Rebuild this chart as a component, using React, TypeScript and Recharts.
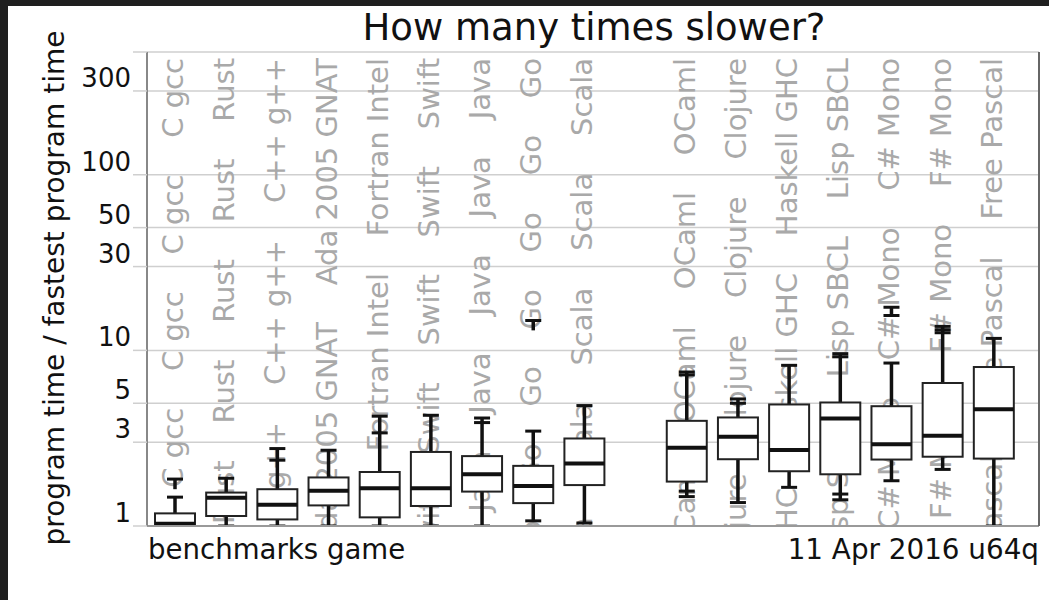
import React from 'react';
import { ComposedChart, Bar, XAxis, YAxis, CartesianGrid } from 'recharts';

// ---- data ----
const languages = [
  'C gcc', 'Rust', 'C++ g++', 'Ada 2005 GNAT', 'Fortran Intel', 'Swift', 'Java', 'Go', 'Scala', '',
  'OCaml', 'Clojure', 'Haskell GHC', 'Lisp SBCL', 'C# Mono', 'F# Mono', 'Free Pascal',
];
const whiskerLow = [1.0, 1.0, 1.0, 1.0, 1.0, 1.0, 1.0, 1.07, 1.04, null, 1.47, 1.36, 1.66, 1.41, 1.81, 2.1, 1.0];
const quartile1 = [1.01, 1.14, 1.09, 1.31, 1.12, 1.3, 1.57, 1.35, 1.71, null, 1.79, 2.4, 2.05, 1.97, 2.39, 2.48, 2.42];
const medians = [1.03, 1.45, 1.32, 1.59, 1.64, 1.64, 1.97, 1.69, 2.27, null, 2.79, 3.22, 2.71, 4.09, 2.92, 3.26, 4.62];
const quartile3 = [1.18, 1.55, 1.62, 1.89, 2.03, 2.64, 2.5, 2.2, 3.15, null, 3.97, 4.15, 4.92, 5.05, 4.81, 6.52, 8.04];
const whiskerHigh = [1.46, 1.87, 2.76, 2.7, 4.22, 4.27, 4.12, 3.47, 4.85, null, 7.53, 5.29, 8.22, 9.58, 8.47, 13.7, 11.7];
const extraCaps: number[][] = [
  [], [], [2.37], [], [3.39], [], [3.88], [], [], [],
  [7.25, 1.58], [5.0], [], [9.2, 1.52], [15.8], [12.6, 13.1], [],
];
const outlierLow = [1.62, null, null, null, null, null, null, 13.0, null, null, null, null, null, null, 15.8, null, null];
const outlierHigh = [1.85, null, null, null, null, null, null, 14.8, null, null, null, null, null, null, 17.6, null, null];

const yTicks = [1, 3, 5, 10, 30, 50, 100, 300, 500];
const yTickLabels = ['1', '3', '5', '10', '30', '50', '100', '300', ''];
const yDomain: [number, number] = [1, 500];

const data = languages.map((name, i) => {
  const lo = whiskerLow[i];
  const hi = whiskerHigh[i];
  if (lo == null || hi == null) return { name, idx: i, range: null };
  const all = [lo, hi, ...(extraCaps[i] || [])];
  if (outlierHigh[i] != null) all.push(outlierHigh[i] as number);
  if (outlierLow[i] != null) all.push(outlierLow[i] as number);
  return {
    name,
    idx: i,
    lo,
    q1: quartile1[i],
    med: medians[i],
    q3: quartile3[i],
    hi,
    caps: extraCaps[i],
    outLo: outlierLow[i],
    outHi: outlierHigh[i],
    range: [Math.min(...all), Math.max(...all)],
  };
});

// approximate DejaVu Sans advance widths (em) used to stop the repeated
// background label just past the bottom of the plot
const ADV: Record<string, number> = {
  ' ': 0.318, '\u00a0': 0.318, '#': 0.838, '+': 0.838, '0': 0.636, '2': 0.636, '5': 0.636,
  A: 0.684, B: 0.686, C: 0.698, F: 0.575, G: 0.775, H: 0.752, J: 0.295, L: 0.557, M: 0.863,
  N: 0.748, O: 0.787, P: 0.603, R: 0.695, S: 0.635, T: 0.611,
  a: 0.613, c: 0.55, d: 0.635, e: 0.615, f: 0.352, g: 0.635, h: 0.634, i: 0.278, j: 0.278,
  k: 0.579, l: 0.278, m: 0.974, n: 0.634, o: 0.612, p: 0.635, r: 0.411, s: 0.521, t: 0.392,
  u: 0.634, v: 0.592, w: 0.818, y: 0.592,
};

const BG_FONT = 29;
const SEP = '\u00a0\u00a0\u00a0\u00a0';

// the label is anchored at its end (top of the plot), so trim from the start
function repeatedLabel(name: string, avail: number) {
  const chars = Array.from(Array(20).fill(name).join(SEP));
  const kept: string[] = [];
  let len = 0;
  for (let k = chars.length - 1; k >= 0; k--) {
    if (len > avail) break;
    kept.push(chars[k]);
    len += (ADV[chars[k]] ?? 0.6) * BG_FONT;
  }
  return kept.reverse().join('');
}

function BoxShape(props: any) {
  const { x, y, width, height, payload } = props;
  if (!payload || !payload.range) return null;
  const [vMin, vMax] = payload.range;
  const top = Math.min(y, y + height);
  const bot = Math.max(y, y + height);
  const lmin = Math.log(vMin);
  const lmax = Math.log(vMax);
  const py = (v: number) => bot - ((Math.log(v) - lmin) / (lmax - lmin)) * (bot - top);
  const cx = x + width / 2;
  const plotTop = py(yDomain[1]);
  const plotBot = py(yDomain[0]);
  const clipId = `col-clip-${payload.idx}`;
  const capW = 16;
  const tx = cx + 8;
  const ty = plotTop + 6;
  const text = repeatedLabel(payload.name, plotBot - ty);
  const ink = '#111';
  return (
    <g>
      <defs>
        <clipPath id={clipId}>
          <rect x={x - 10} y={plotTop} width={width + 20} height={plotBot - plotTop} />
        </clipPath>
      </defs>
      <g clipPath={`url(#${clipId})`}>
        <text
          x={tx}
          y={ty}
          transform={`rotate(-90 ${tx} ${ty})`}
          textAnchor="end"
          fontFamily="DejaVu Sans"
          fontSize={BG_FONT}
          fill="#a9a9a9"
        >
          {text}
        </text>
      </g>
      {/* whiskers */}
      <line x1={cx} x2={cx} y1={py(payload.lo)} y2={py(payload.q1)} stroke={ink} strokeWidth={3.5} />
      <line x1={cx} x2={cx} y1={py(payload.q3)} y2={py(payload.hi)} stroke={ink} strokeWidth={3.5} />
      <line x1={cx - capW / 2} x2={cx + capW / 2} y1={py(payload.lo)} y2={py(payload.lo)} stroke={ink} strokeWidth={3} />
      <line x1={cx - capW / 2} x2={cx + capW / 2} y1={py(payload.hi)} y2={py(payload.hi)} stroke={ink} strokeWidth={3} />
      {payload.caps.map((c: number, k: number) => (
        <line key={k} x1={cx - capW / 2} x2={cx + capW / 2} y1={py(c)} y2={py(c)} stroke={ink} strokeWidth={3} />
      ))}
      {payload.outHi != null && (
        <g>
          <line x1={cx} x2={cx} y1={py(payload.outLo)} y2={py(payload.outHi)} stroke={ink} strokeWidth={3.5} />
          <line x1={cx - capW / 2} x2={cx + capW / 2} y1={py(payload.outHi)} y2={py(payload.outHi)} stroke={ink} strokeWidth={3} />
        </g>
      )}
      {/* box */}
      <rect
        x={x}
        y={py(payload.q3)}
        width={width}
        height={py(payload.q1) - py(payload.q3)}
        fill="#fff"
        stroke="#222"
        strokeWidth={2}
      />
      <line x1={x} x2={x + width} y1={py(payload.med)} y2={py(payload.med)} stroke={ink} strokeWidth={4} />
    </g>
  );
}

function YTick(props: any) {
  const { x, y, payload } = props;
  const i = yTicks.indexOf(payload.value);
  const label = i >= 0 ? yTickLabels[i] : '';
  return (
    <text x={x} y={y - 4} textAnchor="end" fontFamily="DejaVu Sans" fontSize={26} fill="#111">
      {label}
    </text>
  );
}

const W = 1041;
const H = 594;

export default function App() {
  return (
    <div style={{ width: 1049, height: 600, background: '#1f1f1f', position: 'relative' }}>
      <style>{`body{margin:0;background:#1f1f1f}`}</style>
      <div style={{ position: 'absolute', left: 8, top: 6, width: W, height: H, background: '#fff' }}>
        <ComposedChart width={W} height={H} data={data} margin={{ top: 46, right: 0, bottom: 44, left: 59 }}>
          <CartesianGrid horizontal vertical={false} stroke="#cfcfcf" strokeWidth={1.5} />
          <XAxis
            dataKey="name"
            tick={false}
            tickLine={false}
            axisLine={{ stroke: '#999', strokeWidth: 2 }}
            padding={{ left: 2, right: 20 }}
            height={30}
          />
          <YAxis
            scale="log"
            domain={yDomain}
            ticks={yTicks}
            interval={0}
            allowDataOverflow
            tickSize={14}
            tickMargin={2}
            tickLine={{ stroke: '#cfcfcf', strokeWidth: 1.5 }}
            axisLine={{ stroke: '#888', strokeWidth: 2 }}
            tick={<YTick />}
            width={80}
          />
          <YAxis
            yAxisId="right"
            orientation="right"
            scale="log"
            domain={yDomain}
            ticks={yTicks}
            allowDataOverflow
            tick={false}
            tickLine={false}
            axisLine={{ stroke: '#666', strokeWidth: 2 }}
            width={10}
          />
          <Bar dataKey="range" barSize={40} shape={<BoxShape />} isAnimationActive={false} />
        </ComposedChart>
        <svg
          width={W}
          height={H}
          style={{ position: 'absolute', left: 0, top: 0, pointerEvents: 'none' }}
        >
          <text x={586} y={34} textAnchor="middle" fontFamily="DejaVu Sans" fontSize={37} fill="#111">
            How many times slower?
          </text>
          <text
            x={56}
            y={282}
            transform="rotate(-90 56 282)"
            textAnchor="middle"
            fontFamily="DejaVu Sans"
            fontSize={28}
            fill="#111"
          >
            program time / fastest program time
          </text>
          <text x={140} y={553} fontFamily="DejaVu Sans" fontSize={27.6} fill="#111">
            benchmarks game
          </text>
          <text x={1031} y={553} textAnchor="end" fontFamily="DejaVu Sans" fontSize={27.8} fill="#111">
            11 Apr 2016 u64q
          </text>
        </svg>
      </div>
    </div>
  );
}
